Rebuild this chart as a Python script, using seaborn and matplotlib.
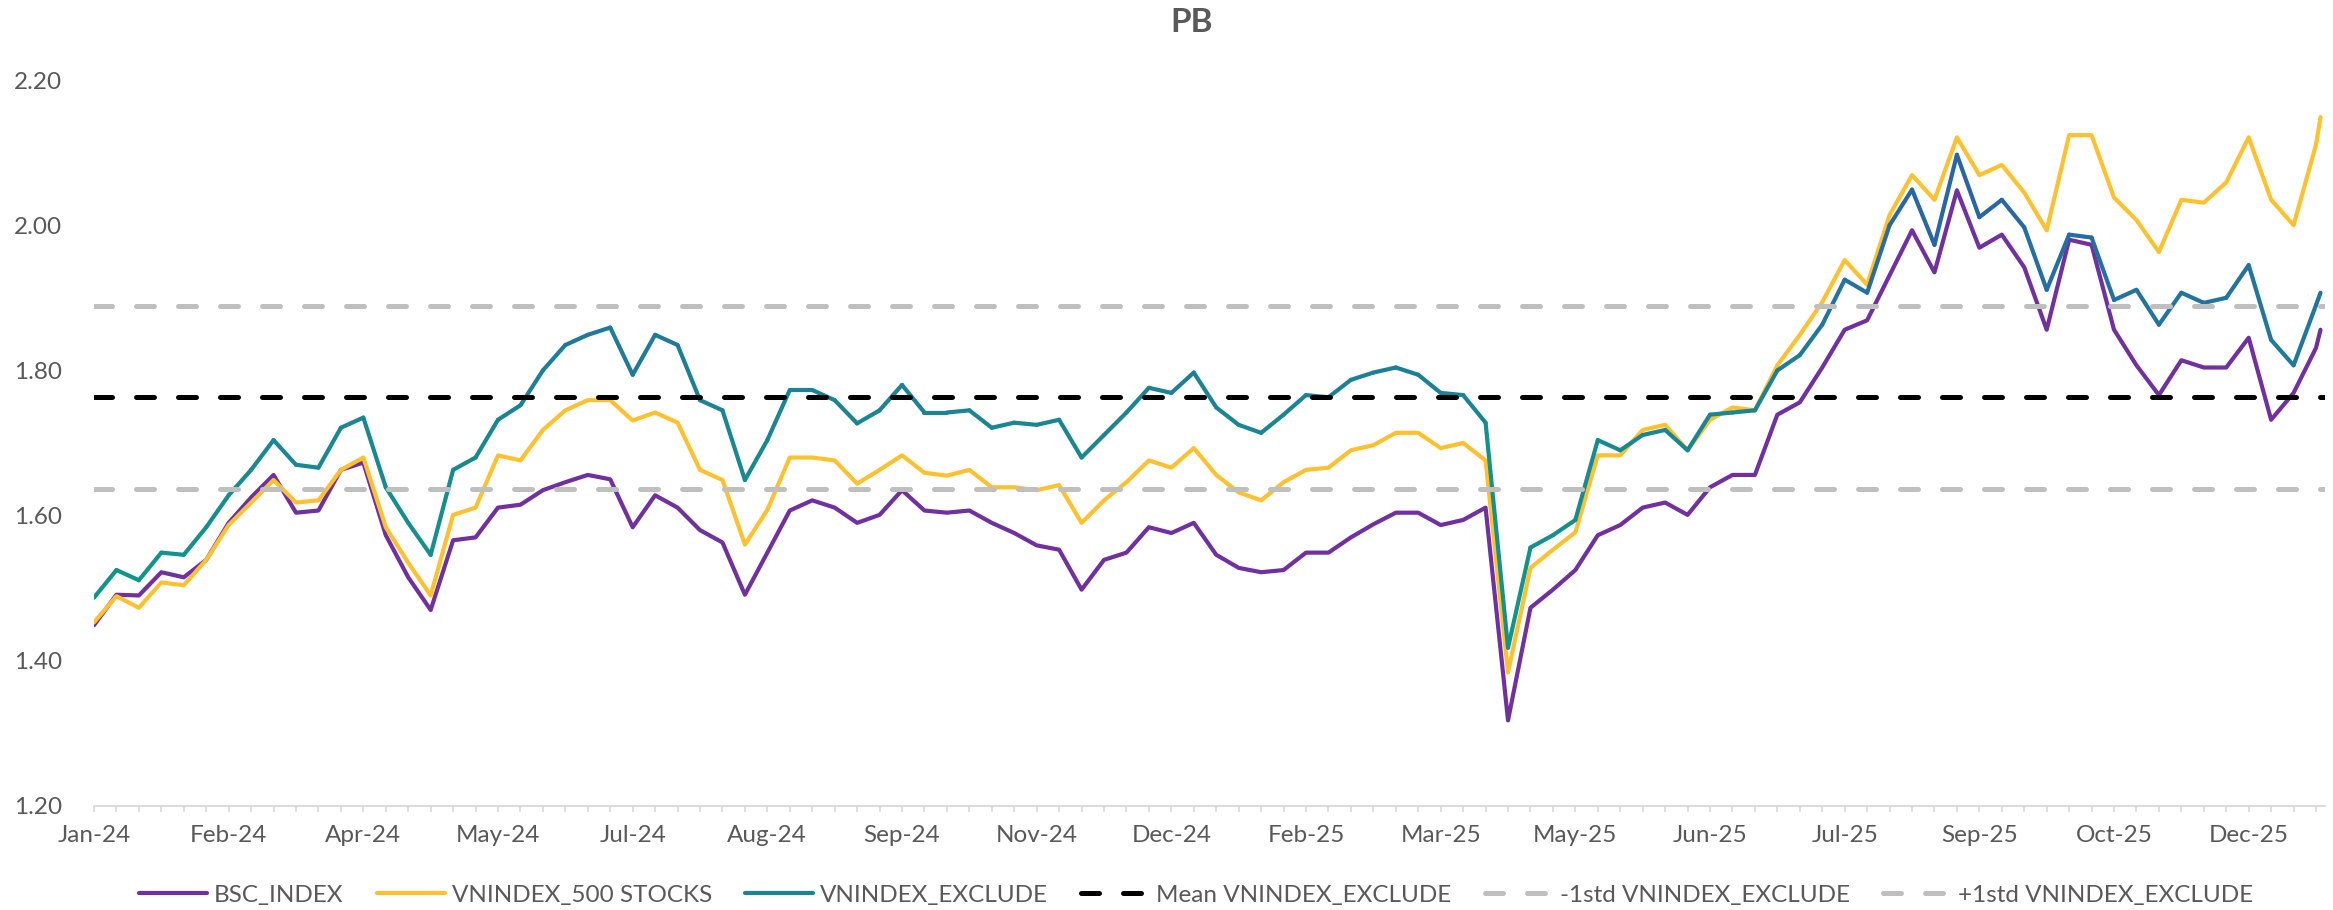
import numpy as np
import pandas as pd
import seaborn as sns
import matplotlib.pyplot as plt
from matplotlib.colors import LinearSegmentedColormap
from matplotlib.lines import Line2D

# trading-day index of each sample (about one per week) and the values
days = list(range(0, 500, 5)) + [496]

bsc_index = [
    1.449, 1.491, 1.490, 1.522, 1.515, 1.539, 1.590, 1.625, 1.656, 1.604,
    1.607, 1.663, 1.673, 1.573, 1.515, 1.470, 1.566, 1.570, 1.611, 1.615,
    1.635, 1.646, 1.656, 1.650, 1.584, 1.628, 1.611, 1.580, 1.563, 1.491,
    1.549, 1.607, 1.621, 1.611, 1.590, 1.601, 1.635, 1.607, 1.604, 1.607,
    1.590, 1.576, 1.559, 1.553, 1.498, 1.539, 1.549, 1.584, 1.576, 1.590,
    1.546, 1.528, 1.522, 1.525, 1.549, 1.549, 1.570, 1.588, 1.604, 1.604,
    1.587, 1.594, 1.611, 1.318, 1.473, 1.498, 1.525, 1.573, 1.587, 1.611,
    1.618, 1.601, 1.639, 1.656, 1.656, 1.739, 1.756, 1.804, 1.856, 1.869,
    1.931, 1.993, 1.935, 2.048, 1.969, 1.987, 1.942, 1.856, 1.980, 1.973,
    1.856, 1.807, 1.766, 1.814, 1.804, 1.804, 1.845, 1.732, 1.769, 1.831,
    1.856,
]
vn500 = [
    1.453, 1.489, 1.473, 1.508, 1.504, 1.539, 1.587, 1.618, 1.649, 1.618,
    1.621, 1.663, 1.680, 1.584, 1.535, 1.490, 1.601, 1.611, 1.683, 1.676,
    1.718, 1.745, 1.759, 1.759, 1.731, 1.742, 1.728, 1.663, 1.649, 1.560,
    1.608, 1.680, 1.680, 1.676, 1.644, 1.663, 1.683, 1.659, 1.655, 1.663,
    1.639, 1.639, 1.635, 1.642, 1.590, 1.621, 1.646, 1.676, 1.666, 1.693,
    1.656, 1.632, 1.621, 1.646, 1.663, 1.666, 1.690, 1.697, 1.714, 1.714,
    1.693, 1.700, 1.676, 1.384, 1.528, 1.553, 1.577, 1.683, 1.683, 1.718,
    1.725, 1.690, 1.732, 1.749, 1.745, 1.807, 1.849, 1.894, 1.952, 1.918,
    2.014, 2.069, 2.035, 2.121, 2.069, 2.083, 2.045, 1.993, 2.124, 2.124,
    2.038, 2.007, 1.963, 2.035, 2.031, 2.059, 2.121, 2.035, 2.000, 2.111,
    2.149,
]
vn_exclude = [
    1.487, 1.525, 1.511, 1.549, 1.546, 1.584, 1.628, 1.663, 1.704, 1.670,
    1.666, 1.721, 1.735, 1.639, 1.590, 1.546, 1.663, 1.680, 1.732, 1.752,
    1.800, 1.835, 1.849, 1.859, 1.794, 1.849, 1.835, 1.759, 1.745, 1.649,
    1.704, 1.773, 1.773, 1.759, 1.727, 1.745, 1.780, 1.742, 1.742, 1.745,
    1.721, 1.728, 1.725, 1.732, 1.680, 1.711, 1.742, 1.776, 1.769, 1.797,
    1.749, 1.725, 1.714, 1.739, 1.766, 1.763, 1.787, 1.797, 1.804, 1.794,
    1.769, 1.766, 1.728, 1.418, 1.556, 1.573, 1.594, 1.704, 1.690, 1.711,
    1.718, 1.690, 1.739, 1.742, 1.745, 1.800, 1.821, 1.863, 1.925, 1.907,
    2.000, 2.049, 1.973, 2.097, 2.011, 2.035, 1.997, 1.911, 1.987, 1.983,
    1.897, 1.911, 1.863, 1.907, 1.893, 1.900, 1.945, 1.842, 1.807, 1.890,
    1.907,
]

mean_exclude = 1.763
minus_std = 1.637
plus_std = 1.889

tick_days = list(range(0, 481, 30))
tick_labels = ["Jan-24", "Feb-24", "Apr-24", "May-24", "Jul-24", "Aug-24",
               "Sep-24", "Nov-24", "Dec-24", "Feb-25", "Mar-25", "May-25",
               "Jun-25", "Jul-25", "Sep-25", "Oct-25", "Dec-25"]

PURPLE = "#7030A0"
YELLOW = "#FFC12F"
GREY = "#BFBFBF"
TEXT = "#595959"

sns.set_style("white")
plt.rcParams["font.family"] = ["Lato", "DejaVu Sans"]

fig, ax = plt.subplots(figsize=(23.33, 9.10), dpi=100)
fig.subplots_adjust(left=94 / 2333, right=2325 / 2333, top=1 - 80 / 910, bottom=1 - 806 / 910)

df = pd.DataFrame({"day": days, "bsc": bsc_index, "vn500": vn500, "excl": vn_exclude})

sns.lineplot(data=df, x="day", y="bsc", color=PURPLE, lw=3, ax=ax)
sns.lineplot(data=df, x="day", y="vn500", color=YELLOW, lw=3, ax=ax)

# VNINDEX_EXCLUDE has a vertical gradient (green low -> blue high): one segment per pair of points
grad = LinearSegmentedColormap.from_list("excl", ["#0E9B87", "#1B8494", "#2B5FAA"])
seg_rows = []
for i in range(len(days) - 1):
    ymid = (vn_exclude[i] + vn_exclude[i + 1]) / 2
    seg_rows.append({"seg": i, "day": days[i], "pb": vn_exclude[i], "ymid": ymid})
    seg_rows.append({"seg": i, "day": days[i + 1], "pb": vn_exclude[i + 1], "ymid": ymid})
seg_df = pd.DataFrame(seg_rows)
sns.lineplot(data=seg_df, x="day", y="pb", hue="ymid", units="seg", estimator=None,
             palette=grad, hue_norm=(1.40, 2.10), lw=3, legend=False,
             solid_capstyle="round", ax=ax)

dash_kw = dict(lw=3.6, dashes=(3.6, 4.8), dash_capstyle="round")
ax.axhline(mean_exclude, color="black", **dash_kw)
ax.axhline(minus_std, color=GREY, **dash_kw)
ax.axhline(plus_std, color=GREY, **dash_kw)

ax.set_xlim(0, 497)
ax.set_ylim(1.20, 2.20)
ax.set_yticks(np.arange(1.20, 2.21, 0.20))
ax.set_yticklabels([f"{v:.2f}" for v in np.arange(1.20, 2.21, 0.20)])
ax.set_xticks(tick_days)
ax.set_xticklabels(tick_labels)
ax.set_xticks(list(range(0, 497, 5)), minor=True)
ax.set_xlabel("")
ax.set_ylabel("")

for s in ["top", "right", "left"]:
    ax.spines[s].set_visible(False)
ax.spines["bottom"].set_color("#D9D9D9")
ax.spines["bottom"].set_linewidth(1.3)

ax.tick_params(axis="y", length=0, pad=23, labelsize=17.5, labelcolor=TEXT)
ax.tick_params(axis="x", which="both", direction="out", length=4.5, width=1.2,
               color="#D9D9D9", bottom=True)
ax.tick_params(axis="x", which="major", pad=9, labelsize=17.5, labelcolor=TEXT)

fig.text(1192 / 2333, 1 - 23 / 910, "PB", ha="center", va="center",
         fontsize=24, fontweight="bold", color=TEXT)

handles = [
    Line2D([], [], color=PURPLE, lw=3),
    Line2D([], [], color=YELLOW, lw=3),
    Line2D([], [], color="#1B8494", lw=3),
    Line2D([], [], color="black", **dash_kw),
    Line2D([], [], color=GREY, **dash_kw),
    Line2D([], [], color=GREY, **dash_kw),
]
labels = ["BSC_INDEX", "VNINDEX_500 STOCKS", "VNINDEX_EXCLUDE", "Mean VNINDEX_EXCLUDE",
          "-1std VNINDEX_EXCLUDE", "+1std VNINDEX_EXCLUDE"]
leg = fig.legend(handles, labels, loc="center", bbox_to_anchor=(1196 / 2333, 1 - 895 / 910),
                 ncol=6, frameon=False, fontsize=17.5, handlelength=2.8,
                 handletextpad=0.3, columnspacing=1.35)
for t in leg.get_texts():
    t.set_color(TEXT)

fig.savefig("out.png", dpi=100)
